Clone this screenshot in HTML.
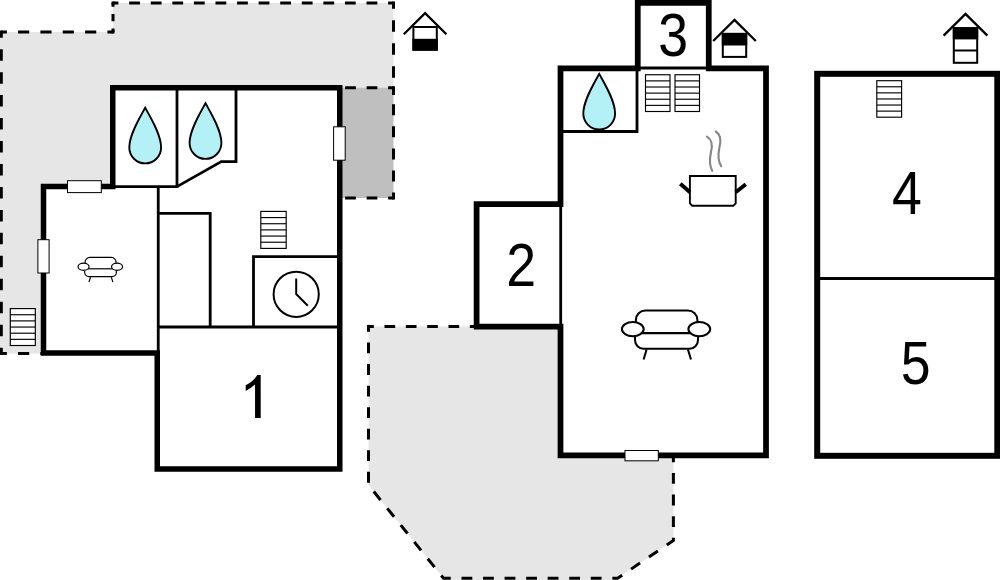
<!DOCTYPE html>
<html><head><meta charset="utf-8"><title>Floor plan</title>
<style>html,body{margin:0;padding:0;background:#fff;}body{width:1000px;height:580px;overflow:hidden;font-family:"Liberation Sans",sans-serif;}</style>
</head><body>
<svg width="1000" height="580" viewBox="0 0 1000 580" style="display:block">
<polygon points="0,32 113,32 113,3 393.5,3 393.5,95 200,95 200,353.4 0,353.4" fill="#e6e6e6"/>
<rect x="340" y="87.75" width="53.5" height="110.25" fill="#bfbfbf"/>
<line x1="45.9" y1="353.4" x2="1.3" y2="353.4" stroke="#000" stroke-width="3" stroke-dasharray="11.150 11.150" stroke-dashoffset="5.575"/>
<line x1="1.3" y1="353.4" x2="1.3" y2="32" stroke="#000" stroke-width="3" stroke-dasharray="11.479 11.479" stroke-dashoffset="5.739"/>
<line x1="1.3" y1="32" x2="113" y2="32" stroke="#000" stroke-width="3" stroke-dasharray="11.170 11.170" stroke-dashoffset="5.585"/>
<line x1="113" y1="32" x2="113" y2="3" stroke="#000" stroke-width="3" stroke-dasharray="7.250 7.250" stroke-dashoffset="3.625"/>
<line x1="113" y1="3" x2="393.5" y2="3" stroke="#000" stroke-width="3" stroke-dasharray="10.788 10.788" stroke-dashoffset="5.394"/>
<line x1="393.5" y1="3" x2="393.5" y2="95" stroke="#000" stroke-width="3" stroke-dasharray="11.500 11.500" stroke-dashoffset="5.750"/>
<rect x="-0.19999999999999996" y="351.9" width="3" height="3" fill="#000"/>
<rect x="-0.19999999999999996" y="30.5" width="3" height="3" fill="#000"/>
<rect x="111.5" y="30.5" width="3" height="3" fill="#000"/>
<rect x="111.5" y="1.5" width="3" height="3" fill="#000"/>
<rect x="392.0" y="1.5" width="3" height="3" fill="#000"/>
<line x1="329" y1="87.75" x2="393.5" y2="87.75" stroke="#000" stroke-width="3" stroke-dasharray="10.750 10.750" stroke-dashoffset="5.375"/>
<line x1="393.5" y1="87.75" x2="393.5" y2="198" stroke="#000" stroke-width="3" stroke-dasharray="11.025 11.025" stroke-dashoffset="5.513"/>
<line x1="393.5" y1="198" x2="329" y2="198" stroke="#000" stroke-width="3" stroke-dasharray="10.750 10.750" stroke-dashoffset="5.375"/>
<rect x="392.0" y="86.25" width="3" height="3" fill="#000"/>
<rect x="392.0" y="196.5" width="3" height="3" fill="#000"/>
<polygon points="368.5,326.4 565,326.4 565,455 673.4,455 673.4,540.5 617.5,578.3 617.5,580 443.5,580 443.5,578.3 368.5,485" fill="#e6e6e6"/>
<line x1="368.5" y1="326.4" x2="560.5" y2="326.4" stroke="#000" stroke-width="3" stroke-dasharray="10.667 10.667" stroke-dashoffset="5.333"/>
<polyline points="368.5,326.4 368.5,485 443.5,578.3 617.5,578.3 673.4,540.5 673.4,455.4" fill="none" stroke="#000" stroke-width="3" stroke-linejoin="miter" stroke-dasharray="10.8 10.75" stroke-dashoffset="5.4"/>
<rect x="367" y="324.9" width="3" height="3" fill="#000"/>
<polygon points="112.75,87.75 339.75,87.75 339.75,469 157.25,469 157.25,353 43.5,353 43.5,186.6 112.75,186.6" fill="#fff" stroke="#000" stroke-width="5.5" stroke-linejoin="miter"/>
<g fill="none" stroke="#000" stroke-width="2.8" stroke-linejoin="miter">
<line x1="177" y1="88" x2="177" y2="187.8"/>
<polyline points="236,88 236,161.6 221.3,161.6 177,186.6"/>
<line x1="113" y1="186.6" x2="177" y2="186.6"/>
<line x1="158.25" y1="186.6" x2="158.25" y2="353"/>
<polyline points="158.25,213.3 210.2,213.3 210.2,327"/>
<line x1="158.25" y1="327" x2="340" y2="327"/>
<polyline points="253.5,327 253.5,256.7 340,256.7"/>
</g>
<rect x="260.8" y="211.4" width="25.399999999999977" height="37.0" fill="#fff" stroke="#000" stroke-width="1.15"/><line x1="260.8" y1="217.57" x2="286.2" y2="217.57" stroke="#000" stroke-width="1.15"/><line x1="260.8" y1="223.73" x2="286.2" y2="223.73" stroke="#000" stroke-width="1.15"/><line x1="260.8" y1="229.90" x2="286.2" y2="229.90" stroke="#000" stroke-width="1.15"/><line x1="260.8" y1="236.07" x2="286.2" y2="236.07" stroke="#000" stroke-width="1.15"/><line x1="260.8" y1="242.23" x2="286.2" y2="242.23" stroke="#000" stroke-width="1.15"/>
<rect x="10.3" y="308.6" width="24.999999999999996" height="36.89999999999998" fill="#fff" stroke="#000" stroke-width="1.15"/><line x1="10.3" y1="314.75" x2="35.3" y2="314.75" stroke="#000" stroke-width="1.15"/><line x1="10.3" y1="320.90" x2="35.3" y2="320.90" stroke="#000" stroke-width="1.15"/><line x1="10.3" y1="327.05" x2="35.3" y2="327.05" stroke="#000" stroke-width="1.15"/><line x1="10.3" y1="333.20" x2="35.3" y2="333.20" stroke="#000" stroke-width="1.15"/><line x1="10.3" y1="339.35" x2="35.3" y2="339.35" stroke="#000" stroke-width="1.15"/>
<path transform="translate(145.2,107.8)" d="M0,0 C5.5,10 15.9,26.700000000000003 15.9,39.7 A15.9,15.9 0 0 1 -15.9,39.7 C-15.9,26.700000000000003 -5.5,10 0,0 Z" fill="#b3f1f7" stroke="#000" stroke-width="1.9" stroke-linejoin="miter"/>
<path transform="translate(205.5,103.3)" d="M0,0 C5.5,10 15.9,26.700000000000003 15.9,39.7 A15.9,15.9 0 0 1 -15.9,39.7 C-15.9,26.700000000000003 -5.5,10 0,0 Z" fill="#b3f1f7" stroke="#000" stroke-width="1.9" stroke-linejoin="miter"/>
<rect x="67.5" y="180.7" width="33.8" height="11.900000000000006" fill="#fff" stroke="#000" stroke-width="1"/>
<rect x="37.9" y="239.7" width="11.200000000000003" height="33.30000000000001" fill="#fff" stroke="#000" stroke-width="1"/>
<rect x="333.6" y="126.8" width="11.599999999999966" height="33.39999999999999" fill="#fff" stroke="#000" stroke-width="1"/>
<circle cx="296.2" cy="294.3" r="22.6" fill="none" stroke="#000" stroke-width="2"/>
<polyline points="296.2,278.6 296.2,294 307.8,305.7" fill="none" stroke="#000" stroke-width="2" stroke-linejoin="miter"/>
<g transform="translate(77.6,256.9) scale(0.504)" fill="none" stroke="#000" stroke-width="2.381" stroke-linecap="butt">
<path d="M14.9,13 V10.5 A9.5,9.5 0 0 1 24.4,1 H66.9 A9.5,9.5 0 0 1 76.4,10.5 V13"/>
<path d="M21,23.6 H69"/>
<path d="M14,27.4 V30.6 A8.6,8.6 0 0 0 22.6,39.2 H68.4 A8.6,8.6 0 0 0 77,30.6 V27.4"/>
<ellipse cx="11.8" cy="19.6" rx="10.9" ry="7.1" fill="#fff"/>
<ellipse cx="78.3" cy="19.6" rx="10.9" ry="7.1" fill="#fff"/>
<path d="M25.6,40 L22.6,50"/>
<path d="M66.9,40 L70,50"/>
</g>
<polygon points="560.5,68.4 637.75,68.4 637.75,2.75 708.75,2.75 708.75,68.4 766,68.4 766,455.4 560.5,455.4 560.5,326.5 476.6,326.5 476.6,204 560.5,204" fill="#fff" stroke="#000" stroke-width="5.75" stroke-linejoin="miter"/>
<rect x="559.6" y="206.8" width="1" height="117" fill="#fff"/>
<g fill="none" stroke="#000" stroke-width="2.8" stroke-linejoin="miter">
<line x1="640" y1="68" x2="706" y2="68"/>
<polyline points="637,68 637,131.5 560.5,131.5"/>
</g>
<line x1="560.7" y1="204" x2="560.7" y2="326.5" stroke="#000" stroke-width="2.8"/>
<rect x="645.5" y="74.75" width="24.5" height="36.75" fill="#fff" stroke="#000" stroke-width="1.15"/><line x1="645.5" y1="80.88" x2="670" y2="80.88" stroke="#000" stroke-width="1.15"/><line x1="645.5" y1="87.00" x2="670" y2="87.00" stroke="#000" stroke-width="1.15"/><line x1="645.5" y1="93.12" x2="670" y2="93.12" stroke="#000" stroke-width="1.15"/><line x1="645.5" y1="99.25" x2="670" y2="99.25" stroke="#000" stroke-width="1.15"/><line x1="645.5" y1="105.38" x2="670" y2="105.38" stroke="#000" stroke-width="1.15"/>
<rect x="675" y="74.75" width="24.5" height="36.75" fill="#fff" stroke="#000" stroke-width="1.15"/><line x1="675" y1="80.88" x2="699.5" y2="80.88" stroke="#000" stroke-width="1.15"/><line x1="675" y1="87.00" x2="699.5" y2="87.00" stroke="#000" stroke-width="1.15"/><line x1="675" y1="93.12" x2="699.5" y2="93.12" stroke="#000" stroke-width="1.15"/><line x1="675" y1="99.25" x2="699.5" y2="99.25" stroke="#000" stroke-width="1.15"/><line x1="675" y1="105.38" x2="699.5" y2="105.38" stroke="#000" stroke-width="1.15"/>
<path transform="translate(599.2,73.9)" d="M0,0 C5.5,10 15.9,26.700000000000003 15.9,39.7 A15.9,15.9 0 0 1 -15.9,39.7 C-15.9,26.700000000000003 -5.5,10 0,0 Z" fill="#b3f1f7" stroke="#000" stroke-width="1.9" stroke-linejoin="miter"/>
<rect x="625" y="450.5" width="33.299999999999955" height="10.300000000000011" fill="#fff" stroke="#000" stroke-width="1"/>
<path d="M689.9,176 H735.7 V203.4 L733.3,205.8 H692.3 L689.9,203.4 Z" fill="#fff" stroke="#000" stroke-width="1.9" stroke-linejoin="miter"/>
<line x1="680.3" y1="183.8" x2="690" y2="192.2" stroke="#000" stroke-width="3.9"/>
<line x1="735.7" y1="192.2" x2="745.8" y2="184.3" stroke="#000" stroke-width="3.9"/>
<path d="M706.9,136.6 C713,140 712.5,146 711,152 C709.5,159 709,165 712.2,170.8" fill="none" stroke="#858585" stroke-width="2.1" stroke-linecap="round"/>
<path d="M715.8,131.5 C721.5,135 721,141 719.5,147 C718,154 717.8,161 721.2,166.1" fill="none" stroke="#858585" stroke-width="2.1" stroke-linecap="round"/>
<g transform="translate(621,309.5) scale(1.0)" fill="none" stroke="#000" stroke-width="2.050" stroke-linecap="butt">
<path d="M14.9,13 V10.5 A9.5,9.5 0 0 1 24.4,1 H66.9 A9.5,9.5 0 0 1 76.4,10.5 V13"/>
<path d="M21,23.6 H69"/>
<path d="M14,27.4 V30.6 A8.6,8.6 0 0 0 22.6,39.2 H68.4 A8.6,8.6 0 0 0 77,30.6 V27.4"/>
<ellipse cx="11.8" cy="19.6" rx="10.9" ry="7.1" fill="#fff"/>
<ellipse cx="78.3" cy="19.6" rx="10.9" ry="7.1" fill="#fff"/>
<path d="M25.6,40 L22.6,50"/>
<path d="M66.9,40 L70,50"/>
</g>
<rect x="817.2" y="73.8" width="180.1" height="382" fill="#fff" stroke="#000" stroke-width="6"/>
<line x1="817" y1="278.5" x2="997" y2="278.5" stroke="#000" stroke-width="3"/>
<rect x="876.8" y="80.7" width="24.800000000000068" height="36.5" fill="#fff" stroke="#000" stroke-width="1.15"/><line x1="876.8" y1="86.78" x2="901.6" y2="86.78" stroke="#000" stroke-width="1.15"/><line x1="876.8" y1="92.87" x2="901.6" y2="92.87" stroke="#000" stroke-width="1.15"/><line x1="876.8" y1="98.95" x2="901.6" y2="98.95" stroke="#000" stroke-width="1.15"/><line x1="876.8" y1="105.03" x2="901.6" y2="105.03" stroke="#000" stroke-width="1.15"/><line x1="876.8" y1="111.12" x2="901.6" y2="111.12" stroke="#000" stroke-width="1.15"/>
<rect x="413.40000000000003" y="27" width="23.4" height="22.700000000000003" fill="#fff" stroke="#000" stroke-width="2"/><rect x="412.40000000000003" y="38.8" width="25.4" height="11.900000000000006" fill="#000"/><polyline points="403.8,34.287 425.1,13.2 446.40000000000003,34.287" fill="none" stroke="#000" stroke-width="2.3" stroke-linejoin="miter"/>
<rect x="722.8" y="33.9" width="23.4" height="23.0" fill="#fff" stroke="#000" stroke-width="2"/><rect x="721.8" y="32.9" width="25.4" height="12.600000000000001" fill="#000"/><polyline points="713.2,40.986999999999995 734.5,19.9 755.8,40.986999999999995" fill="none" stroke="#000" stroke-width="2.3" stroke-linejoin="miter"/>
<rect x="953.8" y="28.2" width="23.4" height="34.599999999999994" fill="#fff" stroke="#000" stroke-width="2"/><rect x="952.8" y="27.2" width="25.4" height="12.2" fill="#000"/><line x1="953.8" y1="50.5" x2="977.2" y2="50.5" stroke="#000" stroke-width="2"/><polyline points="943.6,35.580999999999996 965.5,13.9 987.4,35.580999999999996" fill="none" stroke="#000" stroke-width="2.3" stroke-linejoin="miter"/>
<path d="M260.7,417.9 H255.05 V384.6 Q250.5,388.6 245.7,391 V385.2 Q253.5,381.5 257.3,375.1 H260.7 Z" fill="#000"/>
<text transform="translate(521.1,286.4) scale(0.885,1)" x="0" y="0" text-anchor="middle" font-family="Liberation Sans, sans-serif" font-size="60.6" fill="#000">2</text>
<text transform="translate(673.2,55.8) scale(0.885,1)" x="0" y="0" text-anchor="middle" font-family="Liberation Sans, sans-serif" font-size="60.6" fill="#000">3</text>
<text transform="translate(906.8,214) scale(0.885,1)" x="0" y="0" text-anchor="middle" font-family="Liberation Sans, sans-serif" font-size="60.6" fill="#000">4</text>
<text transform="translate(915.6,383.8) scale(0.885,1)" x="0" y="0" text-anchor="middle" font-family="Liberation Sans, sans-serif" font-size="60.6" fill="#000">5</text>
</svg>
</body></html>
